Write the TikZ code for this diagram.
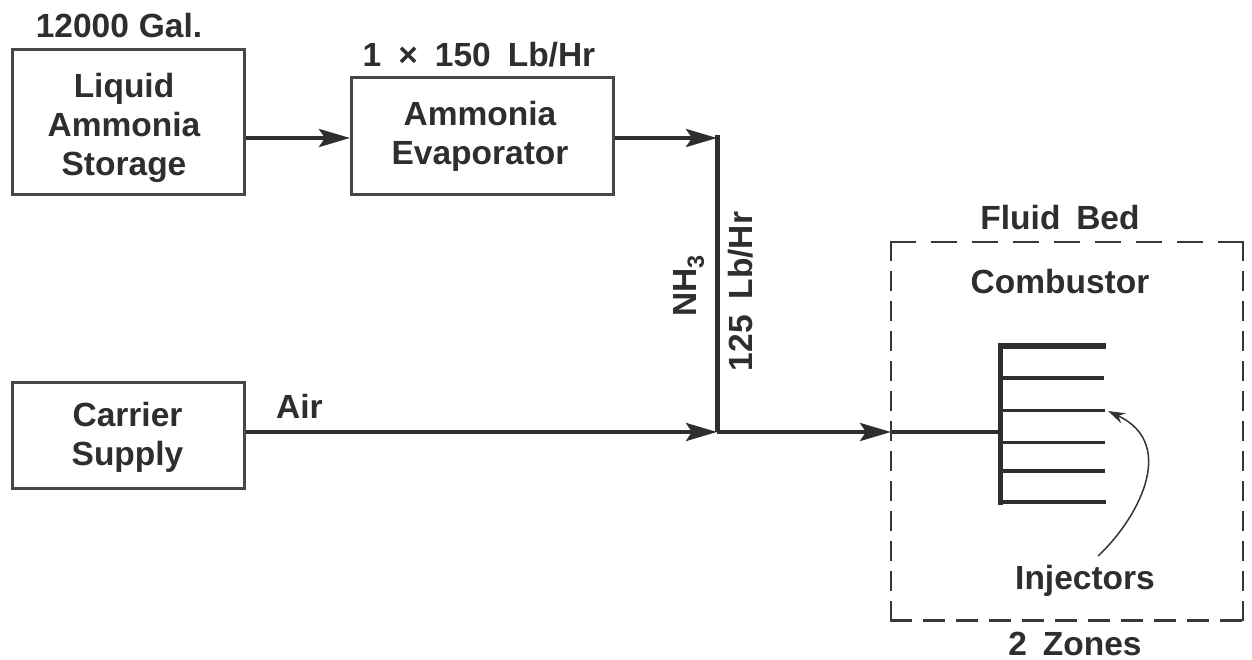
\documentclass[tikz,border=0pt]{standalone}
\usepackage{fontspec}
\setmainfont[WordSpace=1.7]{Liberation Sans}
\usetikzlibrary{arrows.meta}
\tikzset{
 x=1pt,y=-1pt,
 lbl/.style={font=\fontsize{33.5}{39}\selectfont\bfseries,text=black!82,align=center,inner sep=0pt},
 captxt/.style={lbl,anchor=base},
 box/.style={draw=black!72,line width=2.6pt,inner sep=0pt,anchor=north west},
 flow/.style={draw=black!82,line width=4pt},
 tip/.style={-{Stealth[length=31pt,width=18pt,inset=6pt]}},
 inj/.style={draw=black!82,line width=3.4pt},
 dashline/.style={draw=black!78,line width=2.6pt},
}
\begin{document}
\begin{tikzpicture}
\useasboundingbox (0,0) rectangle (1252,660);
\fill[white] (0,0) rectangle (1252,660);
\node[box,minimum width=232pt,minimum height=145pt] (store) at (11,48) {};
\node[lbl] (storet) at (124,127.5) {Liquid\\Ammonia\\Storage};
\node[box,minimum width=262pt,minimum height=117pt] (evap) at (350,76) {};
\node[lbl] (evapt) at (480,136) {Ammonia\\Evaporator};
\node[box,minimum width=232pt,minimum height=106pt] (carrier) at (11,381) {};
\node[lbl] (carriert) at (127.5,437) {Carrier\\Supply};
\node[captxt] (cap1) at (119,38) {\spaceskip=10pt 12000 Gal.};
\node[captxt] (cap2) at (479,67) {\spaceskip=17pt 1 × 150 Lb/Hr};
\node[captxt] (air) at (299.5,418) {Air};
\node[captxt] (fb) at (1060,230) {Fluid Bed};
\node[captxt] (comb) at (1060,294) {Combustor};
\node[captxt] (injt) at (1085,589) {Injectors};
\node[captxt] (zones) at (1075,655) {2 Zones};
\node[captxt,rotate=90] (nh) at (696,286) {NH\textsubscript{3}};
\node[captxt,rotate=90] (rate) at (752,291.5) {125 Lb/Hr};
\coordinate (j1) at (717,138);
\coordinate (j2) at (717,432);
\coordinate (j3) at (1000,432);
\coordinate (a3) at (891,432);
\draw[flow,tip] (store.east |- 0,138) -- (evap.west |- 0,138);
\draw[flow,tip] (evap.east |- 0,138) -- (j1);
\draw[flow,line width=5pt] (717,135) -- (j2);
\draw[flow,tip] (carrier.east |- j2) -- (j2);
\draw[flow,tip] (j2) -- (a3);
\draw[flow] (a3) -- (j3);
\draw[dashline,dash pattern=on 26pt off 15pt] (890,242) -- (1244,242);
\draw[dashline,dash pattern=on 20pt off 10pt] (891,241) -- (891,621);
\draw[dashline,dash pattern=on 20pt off 10pt] (1243,241) -- (1243,621);
\draw[dashline,dash pattern=on 22pt off 11pt] (890,620.5) -- (1244,620.5);
\draw[inj,line width=5pt] (1000.5,343) -- (1000.5,505);
\draw[inj,line width=6pt] (998,346) -- (1106,346);
\draw[inj] (1000,378) -- (1104,378);
\draw[inj] (1000,410.5) -- (1105,410.5);
\draw[inj] (1000,442.5) -- (1105,442.5);
\draw[inj] (1000,471) -- (1105,471);
\draw[inj,line width=4.5pt] (998,502) -- (1106,502);
\coordinate (cs) at (1098,556);
\coordinate (ce) at (1108,411);
\draw[line width=1.5pt,draw=black!80,-{Stealth[length=17pt,width=11pt]}] (cs) .. controls (1135,522) and (1180,445) .. (ce);
\end{tikzpicture}
\end{document}
